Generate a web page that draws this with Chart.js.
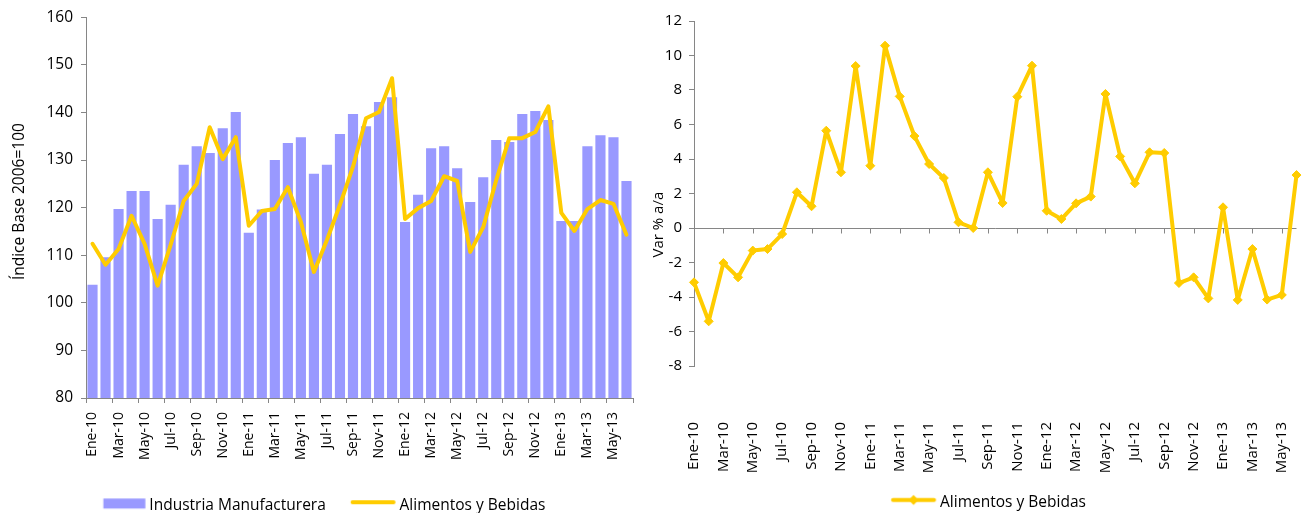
<!DOCTYPE html>
<html>
<head>
<meta charset="utf-8">
<script src="https://cdn.jsdelivr.net/npm/chart.js@4.4.1/dist/chart.umd.min.js"></script>
<style>
  html, body { margin: 0; padding: 0; background: #ffffff; width: 1302px; height: 513px; overflow: hidden; }
  #left  { position: absolute; left: 0;     top: 0; width: 650px; height: 513px; }
  #right { position: absolute; left: 650px; top: 0; width: 652px; height: 513px; }
</style>
</head>
<body>
<div id="left"><canvas id="c1"></canvas></div>
<div id="right"><canvas id="c2"></canvas></div>
<script>
// ---------- DATA ----------
const months = [
  'Ene-10','Feb-10','Mar-10','Abr-10','May-10','Jun-10','Jul-10','Ago-10','Sep-10','Oct-10','Nov-10','Dic-10',
  'Ene-11','Feb-11','Mar-11','Abr-11','May-11','Jun-11','Jul-11','Ago-11','Sep-11','Oct-11','Nov-11','Dic-11',
  'Ene-12','Feb-12','Mar-12','Abr-12','May-12','Jun-12','Jul-12','Ago-12','Sep-12','Oct-12','Nov-12','Dic-12',
  'Ene-13','Feb-13','Mar-13','Abr-13','May-13','Jun-13'
];

// Índice Base 2006=100 - Industria Manufacturera (bars)
const manufactura = [
  103.8, 109.6, 119.7, 123.5, 123.5, 117.6, 120.6, 129.0, 132.9, 131.5, 136.7, 140.1,
  114.7, 119.6, 130.0, 133.6, 134.8, 127.1, 129.0, 135.5, 139.7, 137.1, 142.2, 143.2,
  117.0, 122.7, 132.5, 132.9, 128.3, 121.2, 126.4, 134.2, 133.8, 139.7, 140.3, 138.4,
  117.2, 117.2, 132.9, 135.2, 134.8, 125.6
];

// Índice Base 2006=100 - Alimentos y Bebidas (line, left panel)
const alimentosIndice = [
  112.4, 108.0, 111.3, 118.3, 112.4, 103.6, 112.2, 121.4, 125.0, 136.9, 130.2, 134.8,
  116.2, 119.3, 119.7, 124.3, 117.0, 106.5, 113.2, 120.6, 128.6, 138.8, 140.1, 147.2,
  117.6, 119.9, 121.4, 126.6, 125.6, 110.7, 115.9, 125.8, 134.6, 134.6, 135.9, 141.3,
  118.9, 115.1, 119.7, 121.6, 120.8, 114.3
];

// Var % a/a - Alimentos y Bebidas (right panel)
const alimentosVar = [
  -3.15, -5.41, -2.03, -2.86, -1.31, -1.22, -0.35, 2.07, 1.26, 5.64, 3.23, 9.39,
   3.61, 10.57, 7.63, 5.33, 3.71, 2.90, 0.33, 0.00, 3.23, 1.45, 7.61, 9.41,
   1.00, 0.52, 1.43, 1.82, 7.77, 4.15, 2.59, 4.39, 4.35, -3.19, -2.86, -4.08,
   1.20, -4.17, -1.22, -4.15, -3.88, 3.07
];

const leftTicks  = [80, 160, 10];   // min, max, step
const rightTicks = [-8, 12, 2];

// ---------- STYLE ----------
const FONT = "'Open Sans', sans-serif";
const GRAY = '#868686';
const BAR = '#9999FF';
const YEL = '#FFCC00';
const CLEAR = 'rgba(0,0,0,0)';
const LEG_PAD = 4, LEG_FONT = 15.5;
const LEG_H = LEG_FONT + LEG_PAD + 10;      // Chart.js legend height (one row)
const BOX_W = 62, IMG_EXTRA = 8, IMG_W = BOX_W + 2 * IMG_EXTRA;
const SW_RIGHT = IMG_EXTRA + BOX_W + 3.75;   // swatch right edge inside image

Chart.defaults.font.family = FONT;
Chart.defaults.color = '#000000';

function swatch(draw) {
  const c = document.createElement('canvas');
  c.width = IMG_W; c.height = 16;
  draw(c.getContext('2d'));
  return c;
}
const barSw = swatch(g => { g.fillStyle = BAR; g.fillRect(SW_RIGHT - 42, 1.3, 42, 10); });
const lineSw = swatch(g => {
  g.strokeStyle = YEL; g.lineWidth = 4; g.lineCap = 'round';
  g.beginPath(); g.moveTo(SW_RIGHT - 45 + 2, 5); g.lineTo(SW_RIGHT - 2, 5); g.stroke();
});
const lineDiaSw = swatch(g => {
  const x0 = SW_RIGHT - 45, x1 = SW_RIGHT, cy = 5.8, cx = (x0 + x1) / 2;
  g.strokeStyle = YEL; g.fillStyle = YEL; g.lineWidth = 4; g.lineCap = 'round';
  g.beginPath(); g.moveTo(x0 + 2, cy); g.lineTo(x1 - 2, cy); g.stroke();
  g.beginPath(); g.moveTo(cx, cy - 5); g.lineTo(cx + 5, cy); g.lineTo(cx, cy + 5); g.lineTo(cx - 5, cy); g.closePath(); g.fill();
});

const legendShift = {
  id: 'legendShift',
  afterLayout(chart, args, opts) {
    const L = chart.legend; if (!L) return;
    const dx = opts.dx || 0, dy = opts.dy || 0;
    L.left += dx; L.right += dx; L.top += dy; L.bottom += dy;
  }
};

const zeroTicks = {
  id: 'zeroTicks',
  beforeDatasetsDraw(chart) {
    const xs = chart.scales.x, ys = chart.scales.y, ctx = chart.ctx;
    const y0 = Math.round(ys.getPixelForValue(0)) + 0.5;
    ctx.save();
    ctx.strokeStyle = GRAY; ctx.lineWidth = 1;
    ctx.beginPath();
    for (let i = 0; i < xs.ticks.length; i += 2) {
      const px = Math.round(xs.getPixelForTick(i)) + 0.5;
      ctx.moveTo(px, y0); ctx.lineTo(px, y0 + 5);
    }
    ctx.stroke();
    ctx.restore();
  }
};

function everyOther(v, i) { return i % 2 === 0 ? this.getLabelForValue(v) : ''; }

// ---------- LEFT CHART ----------
new Chart(document.getElementById('c1'), {
  type: 'bar',
  data: {
    labels: months,
    datasets: [
      { type: 'bar', label: 'Industria Manufacturera', data: manufactura,
        backgroundColor: BAR, borderWidth: 0, barPercentage: 0.78, categoryPercentage: 1, order: 1 },
      { type: 'line', label: 'Alimentos y Bebidas', data: alimentosIndice,
        borderColor: YEL, backgroundColor: YEL, borderWidth: 4, pointRadius: 0, tension: 0,
        borderJoinStyle: 'round', borderCapStyle: 'round', fill: false, clip: false, order: 0 }
    ]
  },
  options: {
    responsive: true, maintainAspectRatio: false, animation: false, events: [],
    layout: { padding: { left: 0, right: 17, top: 17, bottom: 0 } },
    scales: {
      x: {
        offset: true,
        grid: { display: true, drawOnChartArea: false, drawTicks: true, tickLength: 5,
                color: c => (c.index === undefined || c.index % 2 === 0) ? GRAY : CLEAR },
        border: { display: true, color: GRAY, width: 1 },
        ticks: { autoSkip: false, minRotation: 90, maxRotation: 90, padding: 9,
                 font: { family: FONT, size: 14 }, color: '#000', callback: everyOther },
        afterFit(s) { s.height = 513 - 398 - LEG_H; s.paddingLeft = 0; s.paddingRight = 0; }
      },
      y: {
        min: leftTicks[0], max: leftTicks[1],
        ticks: { stepSize: leftTicks[2], padding: 8, font: { family: FONT, size: 15.5 }, color: '#000' },
        grid: { drawOnChartArea: false, drawTicks: true, tickLength: 5, color: GRAY },
        border: { color: GRAY, width: 1 },
        title: { display: true, text: '   Índice Base 2006=100', color: '#000',
                 font: { family: FONT, size: 15.5 }, padding: { top: 10, bottom: 0 } },
        afterFit(s) { s.width = 86; }
      }
    },
    plugins: {
      tooltip: { enabled: false },
      legend: {
        position: 'bottom',
        labels: {
          usePointStyle: true, pointStyleWidth: BOX_W, padding: LEG_PAD, color: '#000',
          font: { family: FONT, size: LEG_FONT },
          generateLabels: () => [
            { text: 'Industria Manufacturera', pointStyle: barSw, fillStyle: BAR, strokeStyle: CLEAR, lineWidth: 0, hidden: false, datasetIndex: 0 },
            { text: 'Alimentos y Bebidas', pointStyle: lineSw, fillStyle: YEL, strokeStyle: CLEAR, lineWidth: 0, hidden: false, datasetIndex: 1 }
          ]
        }
      },
      legendShift: { dx: -4, dy: 10 }
    }
  },
  plugins: [legendShift]
});

// ---------- RIGHT CHART ----------
new Chart(document.getElementById('c2'), {
  type: 'line',
  data: {
    labels: months,
    datasets: [
      { label: 'Alimentos y Bebidas', data: alimentosVar,
        borderColor: YEL, backgroundColor: YEL, borderWidth: 4, tension: 0,
        borderJoinStyle: 'round', fill: false, clip: false,
        pointStyle: 'rectRot', pointRadius: 4.5, pointBorderWidth: 1,
        pointBackgroundColor: YEL, pointBorderColor: YEL }
    ]
  },
  options: {
    responsive: true, maintainAspectRatio: false, animation: false, events: [],
    layout: { padding: { left: 0, right: 4, top: 21, bottom: 0 } },
    scales: {
      x: {
        offset: false,
        grid: { display: false, drawTicks: false },
        border: { display: false },
        ticks: { autoSkip: false, minRotation: 90, maxRotation: 90, padding: 56,
                 font: { family: FONT, size: 15 }, color: '#000', callback: everyOther },
        afterFit(s) { s.height = 513 - 366 - LEG_H; s.paddingLeft = 0; s.paddingRight = 0; }
      },
      y: {
        min: rightTicks[0], max: rightTicks[1],
        ticks: { stepSize: rightTicks[2], padding: 7, font: { family: FONT, size: 15 }, color: '#000' },
        grid: { drawOnChartArea: true, drawTicks: true, tickLength: 5,
                color: c => (c.tick && c.tick.value === 0) ? GRAY : CLEAR, tickColor: GRAY },
        border: { color: GRAY, width: 1 },
        title: { display: true, text: 'Var % a/a                ', color: '#000',
                 font: { family: FONT, size: 15 }, padding: { top: 0, bottom: 0 } },
        afterFit(s) { s.width = 44; }
      }
    },
    plugins: {
      tooltip: { enabled: false },
      legend: {
        position: 'bottom',
        labels: {
          usePointStyle: true, pointStyleWidth: BOX_W, padding: LEG_PAD, color: '#000',
          font: { family: FONT, size: LEG_FONT },
          generateLabels: () => [
            { text: 'Alimentos y Bebidas', pointStyle: lineDiaSw, fillStyle: YEL, strokeStyle: CLEAR, lineWidth: 0, hidden: false, datasetIndex: 0 }
          ]
        }
      },
      legendShift: { dx: 4.1, dy: 7 }
    }
  },
  plugins: [legendShift, zeroTicks]
});
</script>
</body>
</html>
